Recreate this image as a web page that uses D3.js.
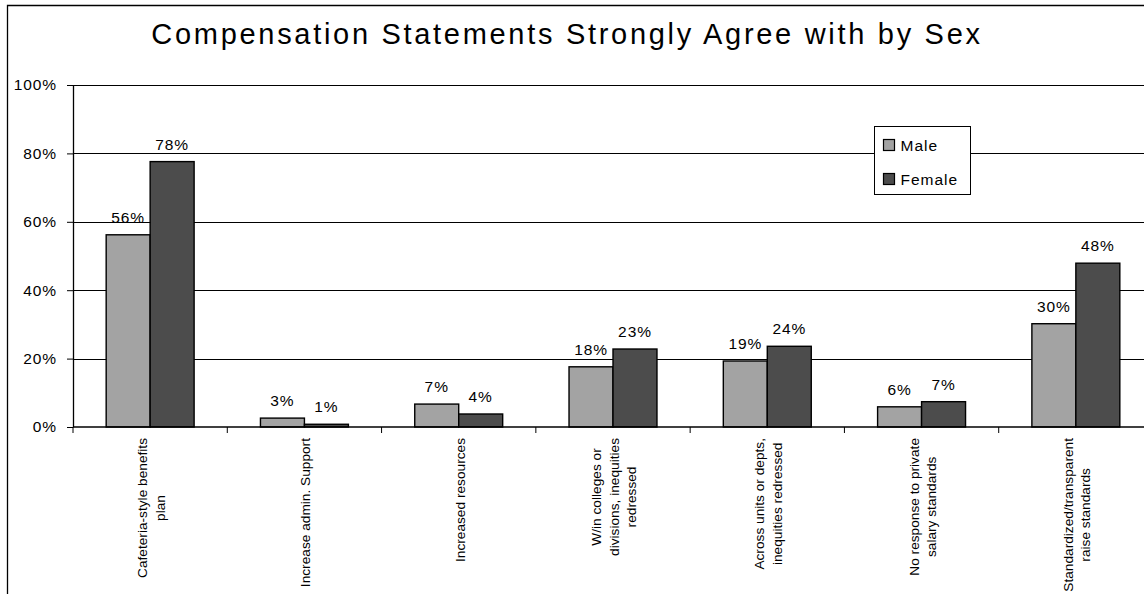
<!DOCTYPE html>
<html>
<head>
<meta charset="utf-8">
<script src="https://cdn.jsdelivr.net/npm/d3@7"></script>
<style>
  body { margin: 0; background: #fff; overflow: hidden; }
  text { font-family: "Liberation Sans", Arial, sans-serif; fill: #000; }
</style>
</head>
<body>
<div id="chart"></div>
<script>
// chart data
var categories = [
    ["Cafeteria-style benefits", "plan"],
    ["Increase admin. Support"],
    ["Increased resources"],
    ["W/in colleges or", "divisions, inequities", "redressed"],
    ["Across units or depts,", "inequities redressed"],
    ["No response to private", "salary standards"],
    ["Standardized/transparent", "raise standards"]
];
var series = ["Male", "Female"];
var maleValues   = [56.2, 2.6, 6.7, 17.6, 19.3, 5.9, 30.2];
var femaleValues = [77.6, 0.8, 3.8, 22.8, 23.6, 7.4, 47.9];
var yTicks = [0, 20, 40, 60, 80, 100];
var title = "Compensation Statements Strongly Agree with by Sex";

var colors = { Male: "#a3a3a3", Female: "#4c4c4c" };

var width = 1144, height = 594;
var margin = { left: 73, top: 85, right: -9, bottom: 167 };
var innerWidth = width - margin.left - margin.right;
var innerHeight = height - margin.top - margin.bottom;

var svg = d3.select("#chart").append("svg")
    .attr("width", width)
    .attr("height", height)
    .style("display", "block");

// outer chart border, only the left and top edges fall on the page
svg.append("path")
    .attr("d", "M7.5," + height + "V5.5H" + width)
    .attr("fill", "none").attr("stroke", "#000").attr("stroke-width", 1.3);

svg.append("text")
    .attr("x", 567).attr("y", 44)
    .attr("text-anchor", "middle")
    .style("font-size", "29px")
    .style("letter-spacing", "2.7px")
    .text(title);

var g = svg.append("g")
    .attr("transform", "translate(" + margin.left + "," + margin.top + ")");

var keys = d3.range(categories.length);
var x = d3.scaleBand().domain(keys).range([0, innerWidth]);
var bw = x.bandwidth();
var gap = bw * 0.215;
var xSub = d3.scaleBand().domain(series).range([gap, bw - gap]);
var y = d3.scaleLinear().domain([0, 100]).range([innerHeight, 0]);
var visibleW = width - margin.left;

// gridlines
g.append("g")
    .attr("class", "grid")
    .call(d3.axisLeft(y).tickValues(yTicks.slice(1)).tickSize(-visibleW).tickFormat(""))
    .call(function (s) { s.select(".domain").remove(); })
    .selectAll("line").attr("stroke", "#000").attr("stroke-width", 1)
    .attr("shape-rendering", "crispEdges");

// bars
var rows = keys.map(function (i) {
    return { i: i, Male: maleValues[i], Female: femaleValues[i] };
});
var groups = g.selectAll(".grp").data(rows).enter().append("g")
    .attr("transform", function (d) { return "translate(" + x(d.i) + ",0)"; });

groups.selectAll("rect")
    .data(function (d) { return series.map(function (k) { return { k: k, v: d[k] }; }); })
    .enter().append("rect")
    .attr("x", function (d) { return xSub(d.k); })
    .attr("y", function (d) { return y(d.v); })
    .attr("width", xSub.bandwidth())
    .attr("height", function (d) { return y(0) - y(d.v); })
    .attr("fill", function (d) { return colors[d.k]; })
    .attr("stroke", "#000").attr("stroke-width", 1.4);

groups.selectAll(".val")
    .data(function (d) { return series.map(function (k) { return { k: k, v: d[k] }; }); })
    .enter().append("text")
    .attr("x", function (d) { return xSub(d.k) + xSub.bandwidth() / 2; })
    .attr("y", function (d) { return y(d.v) - 12; })
    .attr("text-anchor", "middle")
    .style("font-size", "15.5px")
    .style("letter-spacing", "0.9px")
    .text(function (d) { return Math.round(d.v) + "%"; });

// y axis
var yAxisG = g.append("g")
    .call(d3.axisLeft(y).tickValues(yTicks).tickSize(6).tickSizeOuter(0).tickPadding(10)
        .tickFormat(function (d) { return d + "%"; }));
yAxisG.selectAll("line").attr("stroke", "#000");
yAxisG.select(".domain").attr("stroke", "#000").attr("stroke-width", 1.3);
yAxisG.selectAll("text")
    .style("font-size", "15.5px")
    .style("letter-spacing", "0.9px")
    .style("font-family", "\"Liberation Sans\", Arial, sans-serif")
    .attr("fill", "#000");

// x axis line and ticks at band edges
var xAxisG = g.append("g").attr("transform", "translate(0," + innerHeight + ")");
xAxisG.append("line")
    .attr("x1", 0).attr("x2", visibleW)
    .attr("stroke", "#000").attr("stroke-width", 1.3);
var edges = keys.map(function (i) { return x(i); });
xAxisG.selectAll(".tk").data(edges).enter().append("line")
    .attr("x1", function (d) { return d; }).attr("x2", function (d) { return d; })
    .attr("y1", 0).attr("y2", 6)
    .attr("stroke", "#000");

// category labels, rotated, top aligned
var lh = 17.5;
var labels = xAxisG.selectAll(".cat").data(categories).enter().append("text")
    .attr("transform", function (d, i) {
        return "translate(" + (x(i) + bw / 2 + 1) + ",11) rotate(-90)";
    })
    .attr("text-anchor", "middle")
    .style("font-size", "13.7px");
labels.each(function (d) {
    var t = d3.select(this);
    d.forEach(function (line, j) {
        t.append("tspan")
            .attr("y", (j - (d.length - 1) / 2) * lh)
            .attr("dy", "0.35em")
            .text(line);
    });
    var maxW = 0;
    t.selectAll("tspan").each(function () {
        maxW = Math.max(maxW, this.getComputedTextLength());
    });
    t.selectAll("tspan").attr("x", -maxW / 2);
});

// legend
var legend = svg.append("g").attr("transform", "translate(874.5,126.5)");
legend.append("rect")
    .attr("width", 96).attr("height", 68)
    .attr("fill", "#fff").attr("stroke", "#000");
var items = legend.selectAll(".item").data(series).enter().append("g")
    .attr("transform", function (d, i) { return "translate(9," + (13 + i * 34) + ")"; });
items.append("rect")
    .attr("width", 11).attr("height", 11)
    .attr("fill", function (d) { return colors[d]; })
    .attr("stroke", "#000").attr("stroke-width", 1.2);
items.append("text")
    .attr("x", 17).attr("y", 11)
    .style("font-size", "15.5px")
    .style("letter-spacing", "1px")
    .text(function (d) { return d; });
</script>
</body>
</html>
